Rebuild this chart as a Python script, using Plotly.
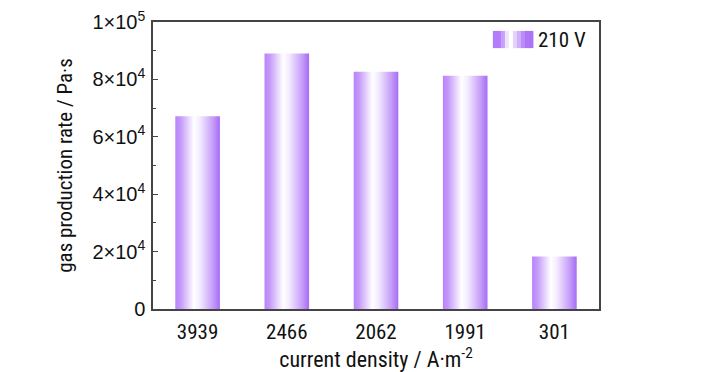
import plotly.graph_objects as go

categories = ["3939", "2466", "2062", "1991", "301"]
rates = [67200, 89000, 82700, 81300, 18300]
series_name = "210 V"
y_tick_values = [0, 20000, 40000, 60000, 80000, 100000]
y_tick_labels = ["0", "2×10<sup>4</sup>", "4×10<sup>4</sup>", "6×10<sup>4</sup>",
                 "8×10<sup>4</sup>", "1×10<sup>5</sup>"]

FONT = "Liberation Sans Narrow, Arial Narrow, Roboto Condensed, Liberation Sans, Arial, sans-serif"
FONT_Y = "Liberation Sans, Arial, sans-serif"
FS = 21
half = 0.25
grad = [[0.0, "#b983fb"], [0.12, "#c49af9"], [0.42, "#ffffff"], [0.55, "#f4ecff"],
        [0.85, "#c49bf8"], [1.0, "#a66bf5"]]

fig = go.Figure()
for i, (c, v) in enumerate(zip(categories, rates)):
    fig.add_trace(go.Scatter(
        x=[i - half, i + half, i + half, i - half, i - half],
        y=[0, 0, v, v, 0],
        mode="lines", line=dict(width=0, color="rgba(0,0,0,0)"),
        fill="toself",
        fillgradient=dict(type="horizontal", colorscale=grad),
        name=series_name, showlegend=False, hoverinfo="skip",
    ))

# legend drawn as annotation + gradient swatch
sw_x0, sw_x1, sw_y0, sw_y1 = 0.762, 0.852, 0.909, 0.969
lg = ["#b27cfa", "#b27cfa", "#c7a0f9", "#efe6fd", "#ffffff", "#e3d2fb", "#cfb0f9",
      "#bb8cf8", "#ae76f7", "#ac73f7"]
n = len(lg)
for k, col in enumerate(lg):
    fig.add_shape(type="rect", xref="paper", yref="paper",
                  x0=sw_x0 + (sw_x1 - sw_x0) * k / n, x1=sw_x0 + (sw_x1 - sw_x0) * (k + 1) / n + 0.001,
                  y0=sw_y0, y1=sw_y1, line=dict(width=0), fillcolor=col, layer="above")
fig.add_annotation(xref="paper", yref="paper", x=0.858, y=0.939, text=series_name,
                   showarrow=False, xanchor="left", yanchor="middle",
                   font=dict(family=FONT, size=FS, color="#111"))

axis_col = "#444"
fig.update_layout(
    width=728, height=372,
    margin=dict(l=145, r=137, t=14, b=71),
    paper_bgcolor="white", plot_bgcolor="white",
    font=dict(family=FONT, size=FS, color="#111"),
    showlegend=False,
    xaxis=dict(
        range=[-0.5, 4.5], tickvals=list(range(len(categories))), ticktext=categories,
        showgrid=False, zeroline=False, showline=True, linecolor=axis_col, linewidth=1.5,
        mirror=True, ticks="", ticklabelstandoff=3, automargin=False,
        tickfont=dict(family=FONT, size=FS),
        title=dict(text="current density / A·m<sup>-2</sup>", standoff=0,
                   font=dict(family=FONT, size=22)),
    ),
    yaxis=dict(
        range=[0, 100000], tickvals=y_tick_values, ticktext=y_tick_labels,
        showgrid=False, zeroline=False, showline=True, linecolor=axis_col, linewidth=1.5,
        mirror=True, ticks="inside", ticklen=5, tickcolor=axis_col, tickwidth=1.2,
        automargin=False, tickfont=dict(family=FONT_Y, size=20), ticklabelstandoff=2,
        ticklabeloverflow="allow",
        minor=dict(dtick=10000, tick0=0, ticks="inside", ticklen=3, tickcolor=axis_col),
        title=dict(text="gas production rate / Pa·s", standoff=14,
                   font=dict(family=FONT, size=FS)),
    ),
)

fig.write_html("out.html")
